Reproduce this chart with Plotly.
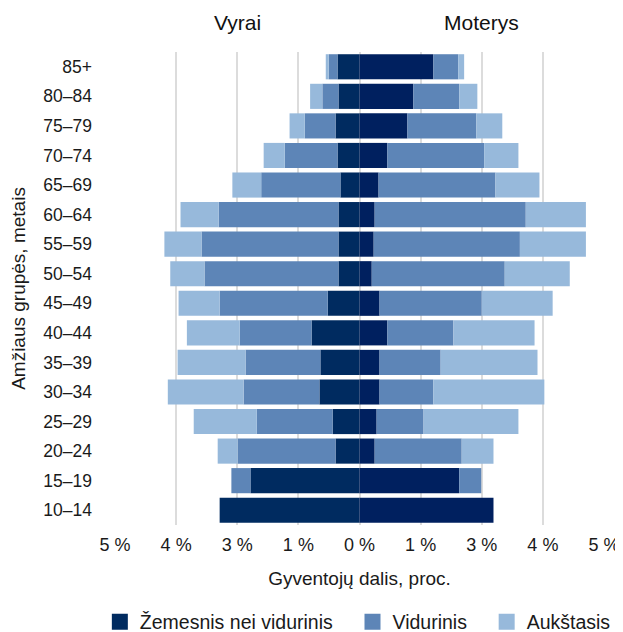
import plotly.graph_objects as go

# amžiaus grupės, nuo jauniausių (apačioje) iki vyriausių
ages = ["10–14", "15–19", "20–24", "25–29", "30–34", "35–39", "40–44", "45–49",
        "50–54", "55–59", "60–64", "65–69", "70–74", "75–79", "80–84", "85+"]

# vyrai, proc.
men_low = [2.86, 2.23, 0.49, 0.55, 0.82, 0.80, 0.98, 0.65, 0.43, 0.43, 0.43, 0.39, 0.45, 0.49, 0.43, 0.45]
men_mid = [0.00, 0.39, 2.00, 1.55, 1.55, 1.53, 1.47, 2.21, 2.74, 2.80, 2.45, 1.62, 1.08, 0.63, 0.33, 0.18]
men_high = [0.00, 0.00, 0.41, 1.29, 1.55, 1.39, 1.08, 0.84, 0.70, 0.76, 0.78, 0.59, 0.43, 0.31, 0.25, 0.06]

# moterys, proc.
women_low = [2.74, 2.04, 0.31, 0.35, 0.41, 0.41, 0.57, 0.41, 0.25, 0.29, 0.31, 0.39, 0.57, 0.98, 1.10, 1.51]
women_mid = [0.00, 0.45, 1.78, 0.96, 1.10, 1.25, 1.35, 2.09, 2.72, 2.99, 3.09, 2.39, 1.98, 1.41, 0.94, 0.51]
women_high = [0.00, 0.00, 0.65, 1.94, 2.27, 1.98, 1.66, 1.45, 1.33, 1.35, 1.23, 0.90, 0.70, 0.53, 0.37, 0.12]

levels = ["Žemesnis nei vidurinis", "Vidurinis", "Aukštasis"]

tick_vals = [-5, -3.75, -2.5, -1.25, 0, 1.25, 2.5, 3.75, 5]
tick_text = ["5 %", "4 %", "3 %", "1 %", "0 %", "1 %", "3 %", "4 %", "5 %"]

men_colors = ["#002B60", "#5D85B7", "#97B9DB"]
women_colors = ["#00205F", "#5D85B7", "#97B9DB"]

fig = go.Figure()
for i, (m, w) in enumerate(zip([men_low, men_mid, men_high], [women_low, women_mid, women_high])):
    fig.add_trace(go.Bar(y=ages, x=[-v for v in m], orientation='h', name=levels[i],
                         marker_color=men_colors[i], marker_line_width=0, showlegend=False))
    fig.add_trace(go.Bar(y=ages, x=w, orientation='h', name=levels[i],
                         marker_color=women_colors[i], marker_line_width=0, showlegend=False))

# legend entries with bigger square swatches (nbsp pads the gap between items)
pad = "\u00a0\u00a0\u2009"
for i, name in enumerate(levels):
    fig.add_trace(go.Scatter(x=[None], y=[None], mode='markers',
                             name=name + (pad if i < 2 else ""),
                             marker=dict(symbol='square', size=16, color=men_colors[i])))

fig.add_annotation(x=-2.5, y=1.0, xref='x', yref='paper', yanchor='middle', yshift=30,
                   text="Vyrai", showarrow=False, font=dict(size=21, color="#111111"))
fig.add_annotation(x=2.5, y=1.0, xref='x', yref='paper', yanchor='middle', yshift=30,
                   text="Moterys", showarrow=False, font=dict(size=21, color="#111111"))

# page body adds an 8px offset; the bottom of the figure runs past the window
fig.update_layout(
    width=615, height=640,
    margin=dict(l=107, r=19, t=44, b=123, autoexpand=False),
    barmode='relative', bargap=0.15,
    plot_bgcolor='white', paper_bgcolor='white',
    font=dict(family="Liberation Sans, Arial, sans-serif", size=16, color="#1a1a1a"),
    xaxis=dict(range=[-5, 5], tickvals=tick_vals, ticktext=tick_text,
               showgrid=True, gridcolor="#DCDCDC", gridwidth=2, zeroline=False,
               tickfont=dict(size=18), automargin=False,
               title=dict(text="Gyventojų dalis, proc.", standoff=17),
               ticks='', ticklabelstandoff=7),
    yaxis=dict(categoryorder='array', categoryarray=ages, showgrid=False,
               ticks='', ticklabelstandoff=22, tickfont=dict(size=17.5), automargin=False,
               title=dict(text="Amžiaus grupės, metais", standoff=26)),
    legend=dict(orientation='h', x=-0.031, xanchor='left',
                y=-0.205, yanchor='middle',
                font=dict(size=19.5), traceorder='normal'),
)

fig.write_html("out.html")
